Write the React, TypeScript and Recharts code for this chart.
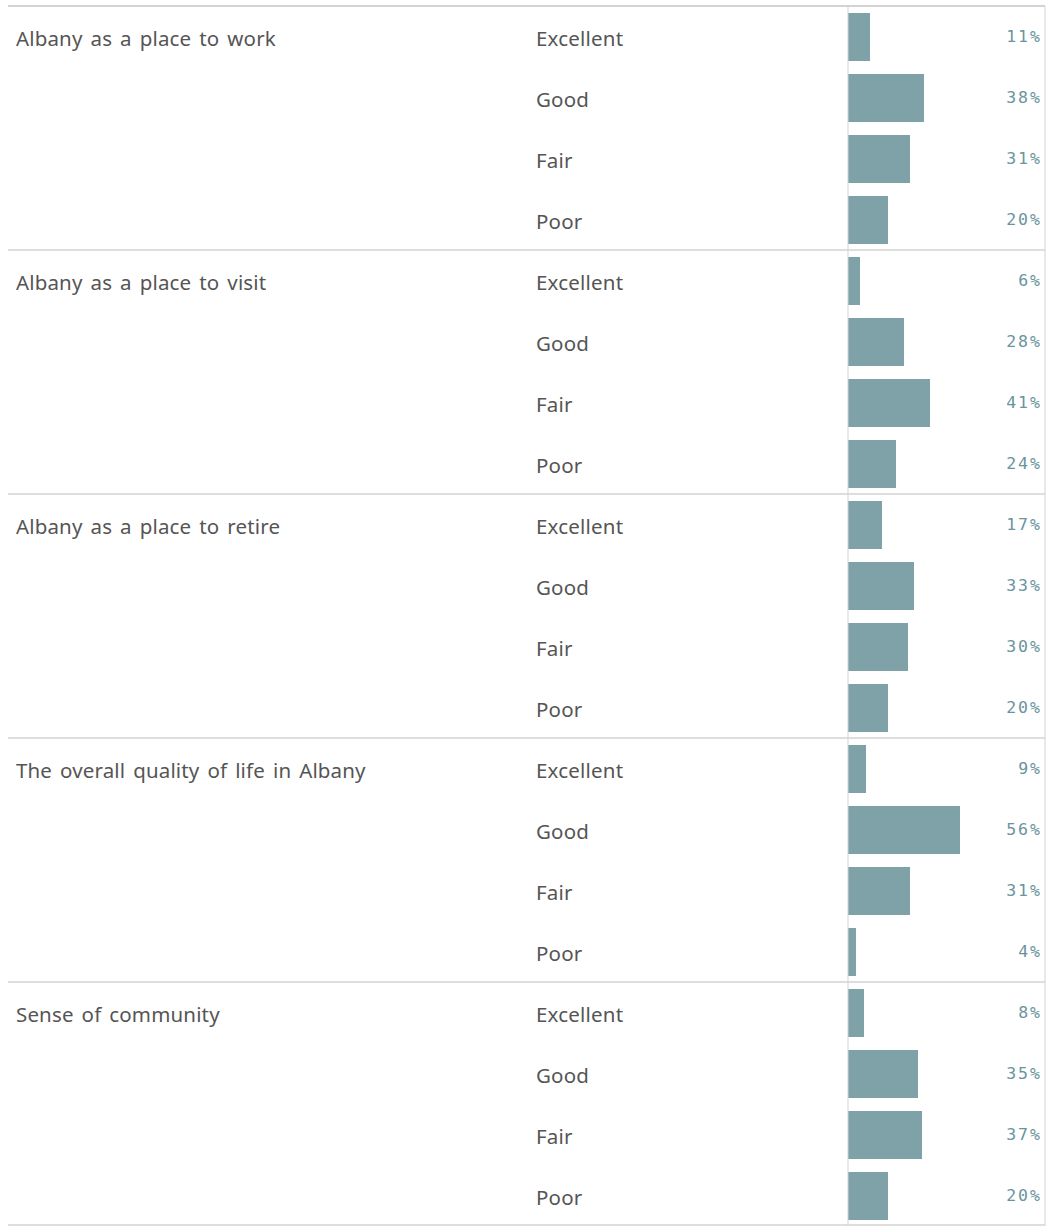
import { Bar, BarChart, XAxis, YAxis, ReferenceLine, LabelList } from "recharts";

const groups = [
  "Albany as a place to work",
  "Albany as a place to visit",
  "Albany as a place to retire",
  "The overall quality of life in Albany",
  "Sense of community",
];
const ratings = ["Excellent", "Good", "Fair", "Poor"];

const placeToWork = [11, 38, 31, 20];
const placeToVisit = [6, 28, 41, 24];
const placeToRetire = [17, 33, 30, 20];
const qualityOfLife = [9, 56, 31, 4];
const senseOfCommunity = [8, 35, 37, 20];

const groupValues = [placeToWork, placeToVisit, placeToRetire, qualityOfLife, senseOfCommunity];

const rows = groups.flatMap((group, gi) =>
  ratings.map((rating, ri) => ({
    key: `${gi}-${ri}`,
    group,
    rating,
    first: ri === 0,
    value: groupValues[gi][ri],
  }))
);

// layout
const W = 1059;
const H = 1226;
const PLOT_LEFT = 848;
const PLOT_RIGHT = 1045;
const LINE_LEFT = 8;
const GRID = "#d3d3d3";
const TEXT = "#555555";

function RowTick(props: any) {
  const { y, payload } = props;
  const row = rows.find((r) => r.key === payload.value);
  if (!row) return null;
  const font = { fontFamily: "Noto Sans", fontSize: 20.5, fill: TEXT };
  return (
    <g>
      {row.first && (
        <text x={16} y={y} dy={9} wordSpacing={2.5} letterSpacing={0.15} {...font}>
          {row.group}
        </text>
      )}
      <text x={536} y={y} dy={9} letterSpacing={0.2} {...font}>
        {row.rating}
      </text>
    </g>
  );
}

function PctLabel(props: any) {
  const { y, height, value } = props;
  return (
    <text
      x={PLOT_RIGHT - 3}
      y={y + height / 2}
      dy={4.5}
      textAnchor="end"
      fontFamily="DejaVu Sans Mono"
      fontSize={16.5}
      letterSpacing={2}
      fill="#6a949d"
    >
      {value}%
    </text>
  );
}

export default function App() {
  return (
    <div style={{ position: "absolute", left: 0, top: 0, background: "#fff" }}>
      <BarChart
        width={W}
        height={H}
        data={rows}
        layout="vertical"
        margin={{ top: 6, right: W - PLOT_RIGHT, bottom: 0, left: LINE_LEFT }}
      >
        <XAxis type="number" domain={[0, 98.5]} hide />
        <YAxis
          type="category"
          dataKey="key"
          width={PLOT_LEFT - LINE_LEFT}
          interval={0}
          tickLine={false}
          axisLine={{ stroke: GRID }}
          tick={<RowTick />}
        />
        {rows
          .filter((r) => r.first)
          .map((r, i) => (
            <ReferenceLine
              key={r.key}
              y={r.key}
              position="start"
              shape={(p: any) => (
                <line
                  x1={LINE_LEFT}
                  x2={p.x2}
                  y1={p.y1}
                  y2={p.y2}
                  stroke={GRID}
                  strokeWidth={i === 0 ? 2 : 1.5}
                />
              )}
            />
          ))}
        <ReferenceLine
          y={rows[rows.length - 1].key}
          position="end"
          shape={(p: any) => (
            <line x1={LINE_LEFT} x2={p.x2} y1={p.y1 - 1} y2={p.y2 - 1} stroke={GRID} strokeWidth={1.5} />
          )}
        />
        <ReferenceLine x={98.5} stroke={GRID} />
        <Bar dataKey="value" fill="#7fa1a8" barSize={48} isAnimationActive={false}>
          <LabelList dataKey="value" content={<PctLabel />} />
        </Bar>
      </BarChart>
    </div>
  );
}
